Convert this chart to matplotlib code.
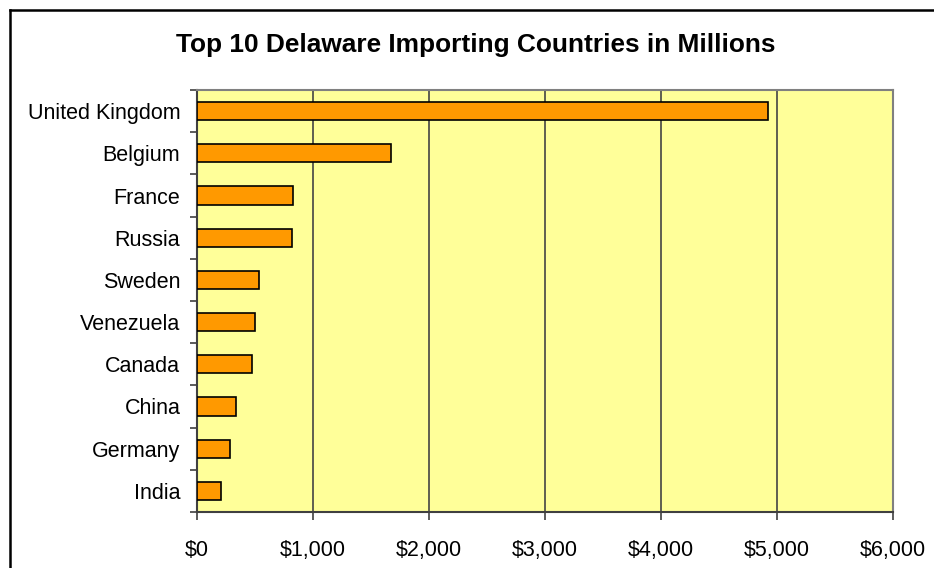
import matplotlib.pyplot as plt
from matplotlib.lines import Line2D
from matplotlib.ticker import FuncFormatter, MultipleLocator
import numpy as np

plt.rcParams['font.family'] = ['Liberation Sans', 'DejaVu Sans']

# Імпорт Делавера за країнами, млн доларів
countries = ['United Kingdom', 'Belgium', 'France', 'Russia', 'Sweden',
             'Venezuela', 'Canada', 'China', 'Germany', 'India']
values = [4922, 1672, 830, 821, 532, 500, 477, 336, 287, 207]

fig = plt.figure(figsize=(9.34, 5.68), dpi=100)
ax = fig.add_axes([197 / 934, 1 - 512 / 568, 696 / 934, 422 / 568])
ax.set_facecolor('#FFFF99')

y = np.arange(len(countries))
ax.barh(y, values, height=0.43, color='#FF9900', edgecolor='black',
        linewidth=1.2, zorder=3)

ax.set_xlim(0, 6000)
ax.set_ylim(len(countries) - 0.5, -0.5)

# Сітка тільки по x
ax.xaxis.set_major_locator(MultipleLocator(1000))
ax.xaxis.set_major_formatter(FuncFormatter(lambda v, p: f'${v:,.0f}'))
ax.grid(axis='x', color='#444444', linewidth=1.2, zorder=1)

# Назви країн по центру, риски між категоріями
ax.set_yticks(y)
ax.set_yticklabels(countries)
ax.set_yticks(np.arange(len(countries) + 1) - 0.5, minor=True)
ax.tick_params(axis='y', which='major', length=0, pad=12, labelsize=15.5)
ax.tick_params(axis='y', which='minor', length=5, width=1.2, color='#404040')
ax.tick_params(axis='x', length=6, width=1.2, color='#404040', pad=14,
               labelsize=15.5)

for side in ['left', 'bottom']:
    ax.spines[side].set_color('#404040')
    ax.spines[side].set_linewidth(1.5)
for side in ['top', 'right']:
    ax.spines[side].set_color('#808080')
    ax.spines[side].set_linewidth(1.5)

fig.text(476 / 934, 1 - 45 / 568, 'Top 10 Delaware Importing Countries in Millions',
         ha='center', va='center', fontsize=18.9, fontweight='bold')

# Рамка навколо діаграми
fig.add_artist(Line2D([10 / 934, 1], [1 - 10 / 568] * 2, color='black', linewidth=1.8))
fig.add_artist(Line2D([10 / 934] * 2, [0, 1 - 10 / 568], color='black', linewidth=1.8))

fig.savefig('out.png', dpi=100)
